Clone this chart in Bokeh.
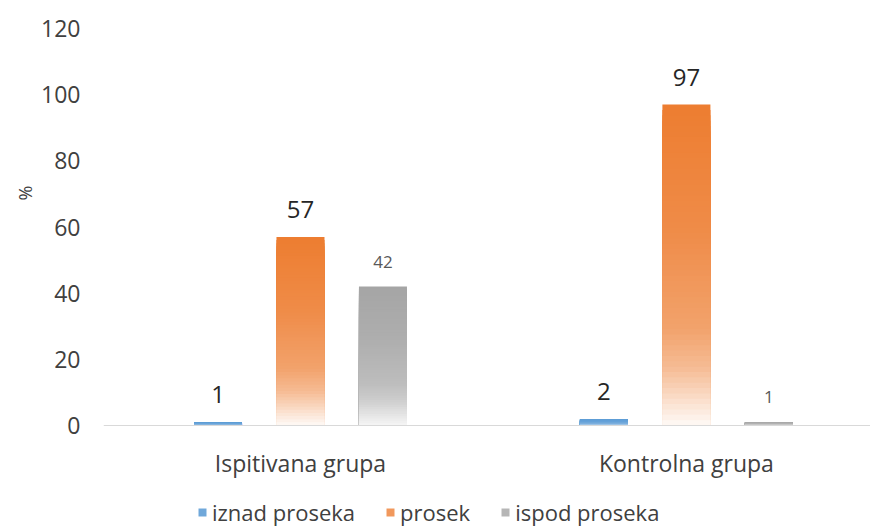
import numpy as np
from bokeh.plotting import figure
from bokeh.core.properties import value
from bokeh.models import (ColumnDataSource, Range1d, FixedTicker, Span,
                          Legend, LegendItem, LabelSet, Title)
from bokeh.embed import file_html
from bokeh.resources import INLINE

# ---- data ----
groups = ["Ispitivana grupa", "Kontrolna grupa"]
series = ["iznad proseka", "prosek", "ispod proseka"]
iznad = [1, 2]
prosek = [57, 97]
ispod = [42, 1]
y_ticks = [0, 20, 40, 60, 80, 100, 120]
y_label = "%"

# ---- styles ----
FONT = "Open Sans"
base_colors = ["#5B9BD5", "#ED7D31", "#A5A5A5"]
bottom_white = [0.6, 0.96, 0.9]
label_sizes = ["24px", "24px", "17px"]
label_colors = ["#262626", "#262626", "#595959"]
N = 60
grad_t = [0.0, 0.4, 0.7, 0.82, 1.0]
grad_w = [0.0, 0.12, 0.3, 0.5, 1.0]

bar_step = 0.2137
bar_width = 0.1244

p = figure(width=870, height=531, output_backend="svg", toolbar_location=None,
           x_range=Range1d(-0.0104, 1.977), y_range=Range1d(-32.04, 120),
           min_border_left=103, min_border_right=0, min_border_top=28, min_border_bottom=0)
p.outline_line_color = None
p.xgrid.visible = False
p.ygrid.visible = False
p.xaxis.visible = False
p.background_fill_color = "white"


def mix(hexc, w):
    c = np.array([int(hexc[i:i + 2], 16) for i in (1, 3, 5)], dtype=float)
    c = c + (255 - c) * w
    return "#%02x%02x%02x" % tuple(int(round(v)) for v in c)


# category axis line at 0
p.add_layout(Span(location=0, dimension="width", line_color="#D9D9D9", line_width=1))

values_all = [iznad, prosek, ispod]
centers = np.arange(len(groups)) + 0.5
items = []
for j, (name, vals) in enumerate(zip(series, values_all)):
    xs = centers + (j - 1) * bar_step
    rx, rtop, rcol = [], [], []
    for g, v in enumerate(vals):
        for k in range(N):  # k=0 is topmost band, drawn first as full bar
            t = (k + 0.5) / N
            w = np.interp(t, grad_t, grad_w) * bottom_white[j]
            rx.append(xs[g])
            rtop.append(v * (N - k) / N)
            rcol.append(mix(base_colors[j], w))
    src = ColumnDataSource(dict(x=rx, top=rtop, color=rcol))
    r = p.vbar(x="x", top="top", bottom=0, width=bar_width, fill_color="color",
               line_color=None, source=src)
    items.append(LegendItem(label=name, renderers=[r], index=int(0.55 * N)))

    lsrc = ColumnDataSource(dict(x=xs, y=vals, text=[str(v) for v in vals]))
    p.add_layout(LabelSet(x="x", y="y", text="text", source=lsrc, text_align="center",
                          text_baseline="alphabetic", y_offset=19,
                          text_font=value(FONT), text_font_size=label_sizes[j],
                          text_color=label_colors[j]))

# category labels under the axis line
csrc = ColumnDataSource(dict(x=centers, y=[0] * len(groups), text=groups))
p.add_layout(LabelSet(x="x", y="y", text="text", source=csrc, text_align="center",
                      text_baseline="top", y_offset=-21, text_font=value(FONT),
                      text_font_size="23px", text_color="#404040"))

ya = p.yaxis[0]
ya.ticker = FixedTicker(ticks=y_ticks)
ya.axis_line_color = None
ya.major_tick_line_color = None
ya.minor_tick_line_color = None
ya.major_tick_out = 0
ya.major_tick_in = 0
ya.major_label_standoff = 23
ya.major_label_text_font = FONT
ya.major_label_text_font_size = "23px"
ya.major_label_text_color = "#404040"

p.add_layout(Title(text=y_label, align="left", offset=331, text_font=FONT,
                   text_font_size="18px", text_font_style="normal",
                   text_color="#404040", standoff=4), "left")

legend = Legend(items=items, orientation="horizontal", location=(94, 4),
                label_text_font=FONT, label_text_font_size="22px", label_text_color="#404040",
                glyph_width=10, glyph_height=10, label_standoff=5, spacing=30,
                padding=0, margin=0, border_line_color=None, background_fill_alpha=0)
p.add_layout(legend, "center")

open("out.html", "w").write(file_html(p, INLINE))
